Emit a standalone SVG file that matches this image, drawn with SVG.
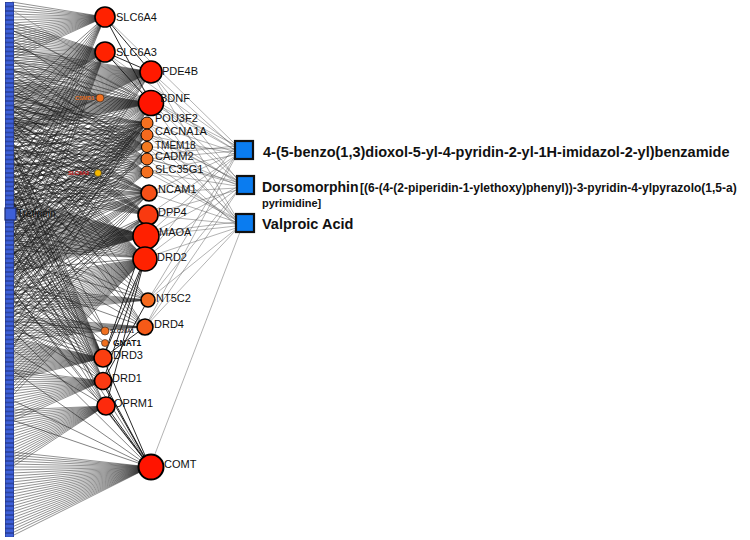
<svg xmlns="http://www.w3.org/2000/svg" width="750" height="540" viewBox="0 0 750 540">
<style>
.fan{fill:none;stroke:#262626;stroke-width:0.5;stroke-linejoin:bevel}
.sc{fill:none;stroke:#1a1a1a;stroke-width:0.55;stroke-linejoin:bevel}
.gg{fill:none;stroke:#111;stroke-width:0.9}
.dr{fill:none;stroke:#555;stroke-width:0.45}
.nd{stroke:#000;stroke-width:1.6}
.sm{stroke:#222;stroke-width:0.6}
.lbl{font-family:"Liberation Sans",Arial,sans-serif;font-size:11px;fill:#111}
.tiny{font-family:"Liberation Sans",Arial,sans-serif;font-size:5.5px;font-weight:bold}
.drug{fill:#0a7cf0;stroke:#111;stroke-width:2.2}
.dt{font-family:"Liberation Sans",Arial,sans-serif;font-weight:bold;fill:#111}
</style>
<defs>
<pattern id="col" x="5" y="2" width="9" height="4.5" patternUnits="userSpaceOnUse">
<rect x="0" y="0" width="9" height="4.5" fill="#3d5fd8" stroke="#1b2a70" stroke-width="0.9"/>
</pattern>
</defs>
<rect width="750" height="540" fill="#fff"/>
<g id="connectors">
<path class="fan" d="M105 17L12 2 12 5 105 17 12 8 12 11 105 17 12 14 12 17 105 17 12 20 12 23 105 17 12 26 12 29 105 17 12 32 12 35 105 17 12 38 12 41 105 17 12 44 12 47 105 17 12 50 12 53 105 17 12 56 12 59 105 17"/>
<path class="fan" d="M105 52L12 22 12 25 105 52 12 28 12 31 105 52 12 34 12 37 105 52 12 40 12 43 105 52 12 46 12 49 105 52 12 52 12 55 105 52 12 58 12 61 105 52 12 64 12 67 105 52 12 70 12 73 105 52 12 76 12 79 105 52 12 82 12 85 105 52 12 88 12 91 105 52 12 94 12 97 105 52 12 100 12 103 105 52 12 106 12 109 105 52"/>
<path class="fan" d="M151 72L12 48 12 51 151 72 12 54 12 57 151 72 12 60 12 63 151 72 12 66 12 69 151 72 12 72 12 75 151 72 12 78 12 81 151 72 12 84 12 87 151 72 12 90 12 93 151 72 12 96 12 99 151 72 12 102 12 105 151 72 12 108 12 111 151 72 12 114 12 117 151 72 12 120 12 123 151 72 12 126 12 129 151 72 12 132 12 135 151 72 12 138 12 141 151 72"/>
<path class="fan" d="M151 103L12 80 12 82 151 103 12 84 12 86 151 103 12 88 12 90 151 103 12 92 12 94 151 103 12 96 12 98 151 103 12 100 12 102 151 103 12 104 12 106 151 103 12 108 12 110 151 103 12 112 12 114 151 103 12 116 12 118 151 103 12 120 12 122 151 103 12 124 12 126 151 103 12 128 12 130 151 103 12 132 12 134 151 103"/>
<path class="fan" d="M146 236L12 196 12 198 146 236 12 200 12 202 146 236 12 204 12 206 146 236 12 208 12 210 146 236 12 212 12 214 146 236 12 216 12 218 146 236 12 220 12 222 146 236 12 224 12 226 146 236 12 228 12 230 146 236 12 232 12 234 146 236 12 236 12 238 146 236 12 240 12 242 146 236 12 244 12 246 146 236 12 248 12 250 146 236 12 252 12 254 146 236 12 256 12 258 146 236 12 260 12 262 146 236 12 264 12 266 146 236 12 268 12 270 146 236 12 272 12 274 146 236"/>
<path class="fan" d="M145 258L12 280 12 284 145 258 12 288 12 292 145 258 12 296 12 300 145 258 12 304 12 308 145 258 12 312 12 316 145 258 12 320 12 324 145 258 12 328 12 332 145 258 12 336 12 340 145 258 12 344 12 348 145 258 12 352 12 356 145 258 12 360 12 364 145 258 12 368 12 372 145 258 12 376 12 380 145 258 12 384 12 388 145 258 12 392 12 396 145 258"/>
<path class="fan" d="M103 358L12 338 12 340 103 358 12 342 12 344 103 358 12 346 12 348 103 358 12 350 12 352 103 358 12 354 12 356 103 358 12 358 12 360 103 358 12 362 12 364 103 358 12 366 12 368 103 358 12 370 12 372 103 358 12 374 12 376 103 358 12 378 12 380 103 358"/>
<path class="fan" d="M103 381L12 370 12 373 103 381 12 376 12 379 103 381 12 382 12 385 103 381 12 388 12 391 103 381 12 394 12 397 103 381 12 400 12 403 103 381 12 406 12 409 103 381 12 412 12 415 103 381 12 418 12 421 103 381"/>
<path class="fan" d="M105 406L12 410 12 413 105 406 12 416 12 419 105 406 12 422 12 425 105 406 12 428 12 431 105 406 12 434 12 437 105 406 12 440 12 443 105 406 12 446 12 449 105 406 12 452 12 455 105 406 12 458 12 461 105 406 12 464 12 467 105 406"/>
<path class="fan" d="M150 467L12 452 12 455 150 467 12 458 12 461 150 467 12 464 12 467 150 467 12 470 12 473 150 467 12 476 12 479 150 467 12 482 12 485 150 467 12 488 12 491 150 467 12 494 12 497 150 467 12 500 12 503 150 467 12 506 12 509 150 467 12 512 12 515 150 467 12 518 12 521 150 467 12 524 12 527 150 467 12 530 12 533 150 467 12 536"/>
<path class="fan" d="M148 300L12 286 12 290 148 300 12 294 12 298 148 300 12 302 12 306 148 300 12 310 12 314 148 300"/>
<path class="fan" d="M145 327L12 316 12 319 145 327 12 322 12 325 145 327 12 328 12 331 145 327 12 334 12 337 145 327"/>
<path class="sc" d="M105 17L12 100 12 115 105 17 12 130 12 145 105 17 12 160 12 175 105 17 12 190 12 205 105 17 12 220 12 240 105 17"/>
<path class="sc" d="M105 52L12 120 12 135 105 52 12 150 12 165 105 52 12 180 12 195 105 52 12 210 12 225 105 52 12 240 12 260 105 52 12 280 12 300 105 52"/>
<path class="sc" d="M151 72L12 150 12 162 151 72 12 174 12 186 151 72 12 198 12 210 151 72 12 230 12 250 151 72 12 270 12 290 151 72"/>
<path class="sc" d="M151 103L12 140 12 150 151 103 12 160 12 170 151 103 12 180 12 190 151 103 12 200 12 215 151 103 12 230 12 245 151 103 12 260 12 275 151 103 12 290 12 310 151 103 12 330 12 350 151 103 12 30 12 45 151 103 12 60 12 70 151 103"/>
<path class="sc" d="M147 123L12 100 12 112 147 123 12 124 12 136 147 123 12 148 12 160 147 123 12 172 12 184 147 123 12 196 12 208 147 123 12 220 12 232 147 123 12 244 12 256 147 123 12 268 12 280 147 123"/>
<path class="sc" d="M147 135L12 95 12 108 147 135 12 121 12 134 147 135 12 147 12 160 147 135 12 173 12 186 147 135 12 199 12 212 147 135 12 225 12 238 147 135 12 251 12 264 147 135 12 277 12 290 147 135"/>
<path class="sc" d="M147 147L12 70 12 82 147 147 12 94 12 106 147 147 12 118 12 130 147 147 12 142 12 154 147 147 12 166 12 178 147 147 12 190 12 202 147 147 12 300 12 315 147 147"/>
<path class="sc" d="M147 159L12 60 12 75 147 159 12 90 12 105 147 159 12 120 12 135 147 159 12 150 12 165 147 159 12 180 12 195 147 159 12 210 12 225 147 159 12 240 12 255 147 159"/>
<path class="sc" d="M147 172L12 85 12 98 147 172 12 111 12 124 147 172 12 137 12 150 147 172 12 163 12 176 147 172 12 189 12 202 147 172 12 215 12 228 147 172 12 241 12 254 147 172 12 267 12 280 147 172"/>
<path class="sc" d="M149 193L12 110 12 122 149 193 12 134 12 146 149 193 12 158 12 170 149 193 12 182 12 194 149 193 12 206 12 218 149 193 12 230 12 242 149 193 12 254 12 266 149 193 12 278 12 290 149 193"/>
<path class="sc" d="M148 215L12 105 12 118 148 215 12 131 12 144 148 215 12 157 12 170 148 215 12 183 12 196 148 215 12 280 12 295 148 215 12 310 12 325 148 215"/>
<path class="sc" d="M145 258L12 120 12 135 145 258 12 150 12 165 145 258 12 180 12 195 145 258 12 210 12 225 145 258 12 240 12 250 145 258"/>
<path class="sc" d="M103 358L12 180 12 200 103 358 12 220 12 240 103 358 12 260 12 280 103 358 12 300 12 320 103 358 12 140 12 160 103 358"/>
<path class="sc" d="M103 381L12 150 12 175 103 381 12 200 12 225 103 381 12 250 12 275 103 381 12 300 12 325 103 381"/>
<path class="sc" d="M105 406L12 200 12 230 105 406 12 260 12 290 105 406 12 320 12 350 105 406"/>
<path class="sc" d="M150 467L12 250 12 290 150 467 12 330 12 370 150 467 12 400 12 420 150 467"/>
<path class="sc" d="M145 327L12 130 12 160 145 327 12 190 12 220 145 327 12 250 12 280 145 327"/>
<path class="sc" d="M148 300L12 120 12 150 148 300 12 180 12 210 148 300 12 240 12 260 148 300"/>
<path class="sc" d="M105 331L12 150 12 200 105 331 12 250 12 300 105 331 12 320 12 340 105 331"/>
<path class="sc" d="M105 343L12 260 12 310 105 343"/>
<path class="sc" d="M100 98L12 40 12 70 100 98 12 130 12 170 100 98"/>
<path class="sc" d="M98 173L12 120 12 150 98 173 12 200 12 240 98 173"/>
<path class="sc" d="M147 123L12 106 12 118 147 123 12 142 12 154 147 123 12 178 12 190 147 123 12 226 12 238 147 123 12 262 12 274 147 123 12 298 12 310 147 123"/>
<path class="sc" d="M149 193L12 116 12 128 149 193 12 152 12 164 149 193 12 188 12 200 149 193 12 236 12 248 149 193 12 272 12 284 149 193 12 302 12 318 149 193 12 330 12 345 149 193"/>
<path class="sc" d="M148 215L12 124 12 137 148 215 12 163 12 176 148 215 12 189 12 300 148 215 12 318 12 336 148 215"/>
<path class="sc" d="M145 258L12 128 12 143 145 258 12 158 12 173 145 258 12 188 12 203 145 258 12 218 12 233 145 258 12 245 12 270 145 258"/>
<path class="sc" d="M103 358L12 150 12 170 103 358 12 190 12 210 103 358 12 230 12 250 103 358 12 270 12 290 103 358 12 310 12 330 103 358"/>
<path class="gg" d="M150 467L106 406M150 467L103 381M150 467L103 358M150 467L108 412M150 467L104 386M145 258L103 358M145 258L103 381M145 258L106 406M146 236L103 358M105 17L151 72M105 52L151 72M105 52L151 103M105 17L151 103M145 327L103 358M148 300L103 381"/>
<path class="dr" d="M105 17L235 144M105 52L235 146M151 72L235 148M151 103L235 150M147 123L235 152M147 135L235 154M147 147L235 149M147 159L235 151M147 172L235 155M149 193L235 153M148 215L235 156M146 236L235 157M145 258L235 147M148 300L235 156M145 327L235 158"/>
<path class="dr" d="M151 72L237 179M151 103L237 181M147 123L237 183M147 135L237 180M147 147L237 185M147 159L237 182M147 172L237 186M149 193L237 188M148 215L237 190M146 236L237 187M145 258L237 189M148 300L237 191M145 327L237 192M105 52L237 178"/>
<path class="dr" d="M151 72L236 217M151 103L236 219M147 123L236 221M147 135L236 218M147 159L236 223M147 172L236 220M149 193L236 222M148 215L236 224M146 236L236 226M145 258L236 228M148 300L236 229M145 327L236 230M150 467L240 232M147 147L236 225"/>
<path class="dr" d="M12 30L235 145M12 60L237 181M12 90L236 219M12 10L235 150M12 120L237 184M12 170L235 146M12 250L236 222"/>
</g>
<g id="left-column">
<rect x="5" y="2" width="9" height="535" fill="url(#col)"/>
</g>
<g id="n-Tretinoin">
<rect x="5" y="208" width="11" height="12" fill="#3d5fd8" stroke="#1b2a70" stroke-width="1.2"/>
<text class="lbl" x="17" y="217" style="font-size:10px;fill:#111">Tretinoin</text>
</g>
<g id="n-SLC6A4"><circle class="nd" cx="105" cy="17" r="10" fill="#ff2200"/><text class="lbl" x="116" y="21">SLC6A4</text></g>
<g id="n-SLC6A3"><circle class="nd" cx="105" cy="52" r="10" fill="#ff2200"/><text class="lbl" x="116" y="56">SLC6A3</text></g>
<g id="n-PDE4B"><circle class="nd" cx="151" cy="72" r="11" fill="#ff1a00"/><text class="lbl" x="162" y="75">PDE4B</text></g>
<g id="n-BDNF"><circle class="nd" cx="151" cy="103" r="12.5" fill="#ff1400"/><text class="lbl" x="160" y="102">BDNF</text></g>
<g id="n-CSMD1"><circle class="sm" cx="100" cy="98" r="4" fill="#f07020"/><text class="tiny" x="75" y="100" fill="#e06a20">CSMD1</text></g>
<g id="n-POU3F2"><circle class="nd" cx="147" cy="123" r="6" fill="#f57020" style="stroke-width:1"/><text class="lbl" x="155" y="122">POU3F2</text></g>
<g id="n-CACNA1A"><circle class="nd" cx="147" cy="135" r="6" fill="#f56a1e" style="stroke-width:1"/><text class="lbl" x="155" y="135">CACNA1A</text></g>
<g id="n-TMEM18"><circle class="nd" cx="147" cy="147" r="5.5" fill="#f47a20" style="stroke-width:1"/><text class="lbl" x="155" y="149" style="font-size:10px">TMEM18</text></g>
<g id="n-CADM2"><circle class="nd" cx="147" cy="159" r="6" fill="#f47020" style="stroke-width:1"/><text class="lbl" x="155" y="160">CADM2</text></g>
<g id="n-SLC35G1"><circle class="nd" cx="147" cy="172" r="6" fill="#f47020" style="stroke-width:1"/><text class="lbl" x="155" y="173">SLC35G1</text></g>
<g id="n-SLC6A2"><circle class="sm" cx="98" cy="173" r="3.5" fill="#f5b800"/><text class="tiny" x="68" y="175" fill="#d01818">SLC6A2</text></g>
<g id="n-NCAM1"><circle class="nd" cx="149" cy="193" r="8" fill="#f55018"/><text class="lbl" x="158" y="193">NCAM1</text></g>
<g id="n-DPP4"><circle class="nd" cx="148" cy="215" r="10" fill="#f93a10"/><text class="lbl" x="158" y="216">DPP4</text></g>
<g id="n-MAOA"><circle class="nd" cx="146" cy="236" r="13" fill="#ff2000"/><text class="lbl" x="159" y="236">MAOA</text></g>
<g id="n-DRD2"><circle class="nd" cx="145" cy="259" r="12" fill="#ff2200"/><text class="lbl" x="157" y="261">DRD2</text></g>
<g id="n-NT5C2"><circle class="nd" cx="148" cy="300" r="7" fill="#f46a1e"/><text class="lbl" x="156" y="302">NT5C2</text></g>
<g id="n-DRD4"><circle class="nd" cx="145" cy="327" r="8" fill="#f55a18"/><text class="lbl" x="154" y="328">DRD4</text></g>
<g id="n-SLC28A1"><circle class="sm" cx="105" cy="331" r="4" fill="#f07020"/><text class="tiny" x="110" y="333" fill="#222">SLC28A1</text></g>
<g id="n-GNAT1"><circle class="sm" cx="105" cy="343" r="3.5" fill="#f07020"/><text class="dt" x="113" y="346" style="font-size:8.5px">GNAT1</text></g>
<g id="n-DRD3"><circle class="nd" cx="103" cy="358" r="9" fill="#fb3e10"/><text class="lbl" x="113" y="359">DRD3</text></g>
<g id="n-DRD1"><circle class="nd" cx="103" cy="381" r="8.5" fill="#fb3a12"/><text class="lbl" x="112" y="382">DRD1</text></g>
<g id="n-OPRM1"><circle class="nd" cx="106" cy="406" r="9" fill="#fd2a0c"/><text class="lbl" x="114" y="407">OPRM1</text></g>
<g id="n-COMT"><circle class="nd" cx="151" cy="467" r="12.5" fill="#ff1400" style="stroke-width:2"/><text class="lbl" x="164" y="468">COMT</text></g>
<g id="d-benzamide"><rect class="drug" x="235" y="141" width="18" height="18"/><text class="dt" x="263" y="157" style="font-size:14.5px">4-(5-benzo(1,3)dioxol-5-yl-4-pyridin-2-yl-1H-imidazol-2-yl)benzamide</text></g>
<g id="d-dorsomorphin"><rect class="drug" x="237" y="176" width="17" height="18"/><text class="dt" x="262" y="192" style="font-size:14px">Dorsomorphin</text><text class="dt" x="360" y="192" style="font-size:12px">[(6-(4-(2-piperidin-1-ylethoxy)phenyl))-3-pyridin-4-ylpyrazolo(1,5-a)</text><text class="dt" x="262" y="207" style="font-size:11px">pyrimidine]</text></g>
<g id="d-valproic"><rect class="drug" x="236" y="214" width="18" height="18"/><text class="dt" x="262" y="229" style="font-size:14.5px">Valproic Acid</text></g>
</svg>
